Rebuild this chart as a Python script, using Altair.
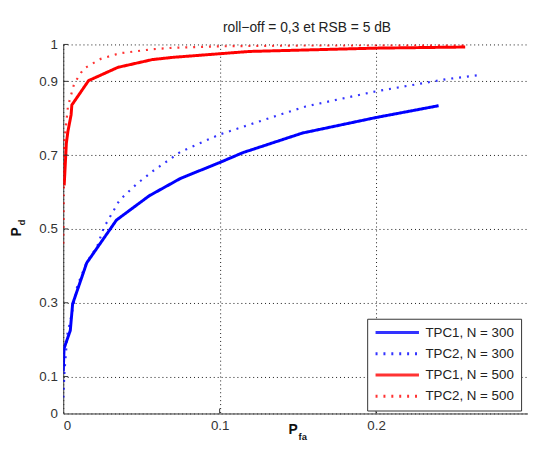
import altair as alt
import pandas as pd

# ---- data ----
series_names = ["TPC1, N = 300", "TPC2, N = 300", "TPC1, N = 500", "TPC2, N = 500"]

tpc1_300_x = [0.0, 0.0005, 0.0045, 0.006, 0.015, 0.034, 0.055, 0.075, 0.100, 0.115, 0.153, 0.200, 0.240]
tpc1_300_y = [0.114, 0.176, 0.225, 0.297, 0.408, 0.524, 0.590, 0.637, 0.680, 0.707, 0.760, 0.802, 0.834]

tpc2_300_x = [0.0, 0.0008, 0.0027, 0.0048, 0.009, 0.015, 0.0217, 0.026, 0.036, 0.047, 0.057, 0.075, 0.100, 0.138, 0.155, 0.200, 0.245, 0.268]
tpc2_300_y = [0.043, 0.114, 0.217, 0.257, 0.346, 0.410, 0.453, 0.504, 0.578, 0.622, 0.656, 0.709, 0.756, 0.809, 0.832, 0.873, 0.906, 0.918]

tpc1_500_x = [0.0006, 0.002, 0.003, 0.005, 0.0055, 0.0162, 0.035, 0.057, 0.070, 0.119, 0.200, 0.257]
tpc1_500_y = [0.618, 0.733, 0.765, 0.809, 0.836, 0.902, 0.938, 0.959, 0.965, 0.981, 0.990, 0.993]

tpc2_500_x = [0.0, 0.0003, 0.0006, 0.003, 0.007, 0.013, 0.024, 0.036, 0.057, 0.070, 0.100, 0.150, 0.200, 0.257]
tpc2_500_y = [0.46, 0.60, 0.733, 0.832, 0.894, 0.934, 0.961, 0.976, 0.987, 0.991, 0.995, 0.997, 0.998, 0.999]

x_ticks = [0, 0.1, 0.2]
y_ticks = [0, 0.1, 0.3, 0.5, 0.7, 0.9, 1]

title_text = "roll\u2212off = 0,3 et RSB = 5 dB"

# ---- build long table ----
rows = []
for name, xs, ys in [
    (series_names[0], tpc1_300_x, tpc1_300_y),
    (series_names[1], tpc2_300_x, tpc2_300_y),
    (series_names[2], tpc1_500_x, tpc1_500_y),
    (series_names[3], tpc2_500_x, tpc2_500_y),
]:
    for i, (xv, yv) in enumerate(zip(xs, ys)):
        rows.append({"series": name, "pfa": xv, "pd": yv, "i": i,
                     "kind": "solid" if name.startswith("TPC1") else "dotted"})
df = pd.DataFrame(rows)

FONT = "Liberation Sans"
W, H = 471, 374
XMAX = W / 1585.0

xscale = alt.Scale(domain=[0, XMAX], nice=False, zero=False)
yscale = alt.Scale(domain=[0, 1], nice=False)

color_enc = alt.Color("series:N", title=None,
                      scale=alt.Scale(domain=series_names,
                                      range=["#0000ff", "#0000ff", "#ff0000", "#ff0000"]))
dash_enc = alt.StrokeDash("series:N", title=None,
                          scale=alt.Scale(domain=series_names,
                                          range=[[1, 0], [2, 6], [1, 0], [2, 6]]))

base = alt.Chart(df).encode(
    x=alt.X("pfa:Q", scale=xscale, title=None,
            axis=alt.Axis(values=x_ticks, format="~g", grid=True, ticks=False,
                          labelPadding=5)),
    y=alt.Y("pd:Q", scale=yscale, title=None,
            axis=alt.Axis(values=y_ticks, format="~g", grid=True, ticks=False,
                          labelPadding=6)),
    color=color_enc,
    strokeDash=dash_enc,
    order="i:Q",
)

dotted = base.transform_filter(alt.datum.kind == "dotted").mark_line(
    clip=True, strokeWidth=2.2, opacity=0.8)
solid = base.transform_filter(alt.datum.kind == "solid").mark_line(
    clip=True, strokeWidth=3)

xt = pd.DataFrame({"v": [0.1, 0.2]})
yt = pd.DataFrame({"v": [0.1, 0.3, 0.5, 0.7, 0.9, 1.0]})
xticks = alt.Chart(xt).mark_rule(color="#333", strokeWidth=1).encode(
    x=alt.X("v:Q", scale=xscale), y=alt.value(H - 5), y2=alt.value(H))
yticks = alt.Chart(yt).mark_rule(color="#333", strokeWidth=1).encode(
    y=alt.Y("v:Q", scale=yscale), x=alt.value(0), x2=alt.value(5))

def label(txt, x, y, size, angle=0, weight="bold", baseline="middle", color="#111", align="center"):
    return alt.Chart(pd.DataFrame({"t": [txt]})).mark_text(
        font=FONT, fontSize=size, fontWeight=weight, color=color,
        align=align, baseline=baseline, angle=angle,
    ).encode(text="t:N", x=alt.value(x), y=alt.value(y))

title_mark = label(title_text, 247, -13, 14, weight="normal", baseline="alphabetic", color="#222")
ytitle_p = label("P", -47, 190, 14, 270)
ytitle_d = label("d", -41.5, 180.5, 10, 270)
xtitle_p = label("P", 233, 391, 14)
xtitle_f = label("fa", 238.5, 398, 9.5, align="left")

chart = alt.layer(dotted, solid, xticks, yticks, title_mark,
                  ytitle_p, ytitle_d, xtitle_p, xtitle_f).properties(
    width=W, height=H,
    autosize=alt.AutoSizeParams(type="none"),
    padding={"left": 56, "top": 34, "right": 0, "bottom": 28},
).configure_view(
    stroke=None
).configure_axis(
    labelFont=FONT, labelFontSize=13.5, labelColor="#333",
    domainColor="#333", domainWidth=1,
    gridColor="#000", gridDash=[1, 3], gridWidth=1, gridOpacity=0.9,
).configure_legend(
    orient="none", legendX=308, legendY=278,
    symbolType="stroke", symbolSize=1936, symbolStrokeWidth=3,
    labelFont=FONT, labelFontSize=13.5, labelColor="#222",
    padding=7, strokeColor="#333", fillColor="white", rowPadding=7.5,
    clipHeight=14, labelOffset=5, cornerRadius=0,
)

chart.save("out.html", embed_options={"renderer": "svg", "actions": False})
